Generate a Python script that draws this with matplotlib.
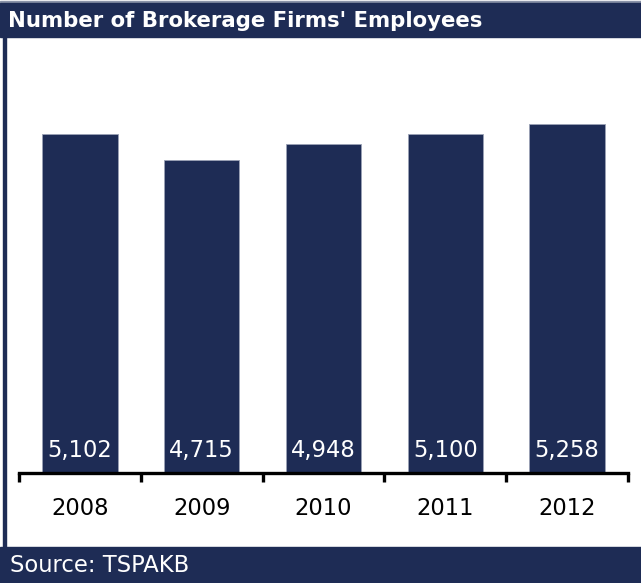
import matplotlib.pyplot as plt
from matplotlib.patches import Rectangle

years = ["2008", "2009", "2010", "2011", "2012"]
employees = [5102, 4715, 4948, 5100, 5258]

navy = "#1e2c55"
W, H = 641, 583

fig = plt.figure(figsize=(W / 100, H / 100), dpi=100)
plt.rcParams['font.family'] = ['DejaVu Sans']

# banners and border
fig.patches.append(Rectangle((0, 1 - 3 / H), 1, 2 / H, transform=fig.transFigure,
                             color="#8a93a8", zorder=0))
fig.patches.append(Rectangle((0, 1 - 37 / H), 1, 34 / H, transform=fig.transFigure,
                             color=navy, zorder=0))
fig.patches.append(Rectangle((3 / W, 36 / H), 3 / W, 1 - 73 / H, transform=fig.transFigure,
                             color=navy, zorder=0))
fig.patches.append(Rectangle((0, 0), 1, 36 / H, transform=fig.transFigure,
                             color=navy, zorder=0))
fig.text(8 / W, 1 - 21 / H, "Number of Brokerage Firms' Employees", color="white",
         fontsize=15.3, fontweight="bold", va="center", ha="left")
fig.text(10 / W, 18 / H, "Source: TSPAKB", color="white", fontsize=16.3,
         va="center", ha="left")

ax = fig.add_axes([19 / W, 1 - 473 / H, (628 - 19) / W, (473 - 41) / H])
x = list(range(len(years)))
ax.bar(x, employees, width=0.62, color=navy, edgecolor="#9aa1b5", linewidth=0.6)
for xi, v in zip(x, employees):
    ax.annotate(f"{v:,}", (xi, 0), xytext=(0, 16.5), textcoords="offset points",
                ha="center", va="center", color="white", fontsize=16.3)

ax.set_xlim(-0.5, len(years) - 0.5)
ax.set_ylim(0, 6500)
for s in ["left", "right", "top"]:
    ax.spines[s].set_visible(False)
ax.spines["bottom"].set_linewidth(2.4)
ax.set_yticks([])
ax.set_xticks([i - 0.5 for i in range(len(years) + 1)])
ax.set_xticklabels([])
ax.tick_params(axis="x", which="major", direction="out", length=6.5, width=2.4)
ax.set_xticks(x, minor=True)
ax.set_xticklabels(years, minor=True, fontsize=16.3)
ax.tick_params(axis="x", which="minor", length=0, pad=17)

fig.savefig("out.png", dpi=100)
